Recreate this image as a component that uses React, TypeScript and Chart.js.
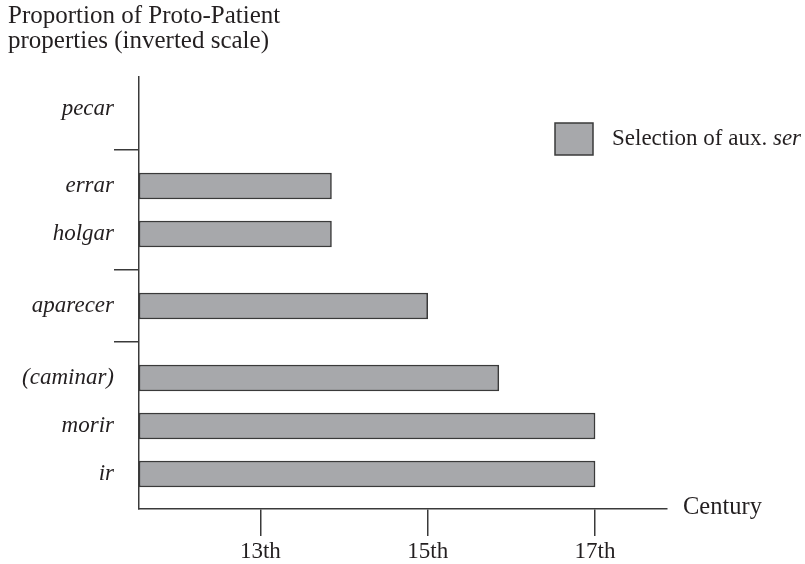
import React, { useEffect, useRef } from 'react';
import { Chart, registerables } from 'chart.js';

Chart.register(...registerables);

// ---- data ----
const verbs = ['ir', 'morir', '(caminar)', 'aparecer', 'holgar', 'errar', 'pecar'];
const verbRows = [0, 1, 2, 3.5, 5, 6, 7.6];
const serCentury: (number | null)[] = [17, 17, 15.85, 15, 13.85, 13.85, null];
const groupBreaks = [2.75, 4.25, 6.75];
const centuryTicks = [13, 15, 17];
const centuryLabels = ['13th', '15th', '17th'];
const titleLines = ['Proportion of Proto-Patient', 'properties (inverted scale)'];
const xTitle = 'Century';
const legendMain = 'Selection of aux. ';
const legendItalic = 'ser';

const X_MIN = 11.55;
const X_MAX = 17.86;
const Y_MIN = -0.73;
const Y_MAX = 8.27;

const FAMILY = "'Liberation Serif', 'DejaVu Serif', serif";
const INK = '#231f20';
const BAR_FILL = '#a7a8ab';
const BAR_EDGE = '#3a3a3a';

const extrasPlugin = {
  id: 'extras',
  afterDraw(chart: any) {
    const { ctx, chartArea } = chart;
    ctx.save();
    // x-axis title to the right of the axis
    ctx.font = `24.5px ${FAMILY}`;
    ctx.fillStyle = INK;
    ctx.textAlign = 'left';
    ctx.textBaseline = 'middle';
    ctx.fillText(xTitle, chartArea.right + 16, chartArea.bottom - 1);

    // legend
    const bx = chartArea.right - 112;
    const by = chartArea.top + 46;
    ctx.fillStyle = BAR_FILL;
    ctx.fillRect(bx, by, 38, 32);
    ctx.strokeStyle = BAR_EDGE;
    ctx.lineWidth = 1.5;
    ctx.strokeRect(bx, by, 38, 32);
    const tx = bx + 57;
    const ty = by + 16;
    ctx.fillStyle = INK;
    ctx.font = `23px ${FAMILY}`;
    ctx.fillText(legendMain, tx, ty);
    const w = ctx.measureText(legendMain).width;
    ctx.font = `italic 23px ${FAMILY}`;
    ctx.fillText(legendItalic, tx + w, ty);
    ctx.restore();
  },
};

export default function App() {
  const ref = useRef<HTMLCanvasElement | null>(null);

  useEffect(() => {
    document.body.style.margin = '0';
    const canvas = ref.current;
    if (!canvas) return;
    const points = verbs
      .map((v, i) => ({ x: serCentury[i], y: verbRows[i] }))
      .filter((p) => p.x !== null);

    const chart = new Chart(canvas, {
      type: 'bar',
      data: {
        datasets: [
          {
            label: 'Selection of aux. ser',
            data: points as any,
            base: X_MIN,
            backgroundColor: BAR_FILL,
            borderColor: BAR_EDGE,
            borderWidth: 1.5,
            borderSkipped: false,
            barThickness: 26,
          } as any,
        ],
      },
      options: {
        indexAxis: 'y',
        animation: false,
        responsive: false,
        maintainAspectRatio: false,
        layout: { padding: { left: 8, right: 138, top: 0, bottom: 0 } },
        plugins: {
          legend: { display: false },
          tooltip: { enabled: false },
          title: {
            display: true,
            text: titleLines,
            align: 'start',
            color: INK,
            font: { family: FAMILY, size: 25, weight: 'normal', lineHeight: '25px' } as any,
            padding: { top: 4, bottom: 23 },
          },
        },
        scales: {
          x: {
            type: 'linear',
            min: X_MIN,
            max: X_MAX,
            offset: false,
            afterBuildTicks: (axis: any) => {
              axis.ticks = centuryTicks.map((v) => ({ value: v }));
            },
            afterFit: (axis: any) => {
              axis.height = 55;
            },
            ticks: {
              color: INK,
              font: { family: FAMILY, size: 23 },
              padding: 2,
              maxRotation: 0,
              autoSkip: false,
              callback: (v: any) => {
                const i = centuryTicks.indexOf(Number(v));
                return i >= 0 ? centuryLabels[i] : '';
              },
            },
            grid: {
              display: true,
              drawOnChartArea: false,
              drawTicks: true,
              tickLength: 27,
              color: BAR_EDGE,
              lineWidth: 1.5,
              offset: false,
            },
            border: { display: true, color: BAR_EDGE, width: 1.5 },
          },
          y: {
            type: 'linear',
            min: Y_MIN,
            max: Y_MAX,
            offset: false,
            afterBuildTicks: (axis: any) => {
              const vals = [...verbRows, ...groupBreaks].sort((a, b) => a - b);
              axis.ticks = vals.map((v) => ({ value: v }));
            },
            afterFit: (axis: any) => {
              axis.width = 131;
            },
            ticks: {
              color: INK,
              font: { family: FAMILY, size: 23, style: 'italic' },
              padding: 0,
              autoSkip: false,
              callback: (v: any) => {
                const i = verbRows.indexOf(Number(v));
                return i >= 0 ? verbs[i] : '';
              },
            },
            grid: {
              display: true,
              drawOnChartArea: false,
              drawTicks: true,
              tickLength: 25,
              lineWidth: 1.5,
              offset: false,
              color: (ctx: any) =>
                ctx.tick && groupBreaks.includes(ctx.tick.value) ? BAR_EDGE : 'rgba(0,0,0,0)',
            },
            border: { display: true, color: BAR_EDGE, width: 1.5 },
          },
        },
      },
      plugins: [extrasPlugin],
    });
    return () => chart.destroy();
  }, []);

  return (
    <div style={{ width: 805, height: 564 }}>
      <canvas ref={ref} width={805} height={564} style={{ display: 'block', width: 805, height: 564 }} />
    </div>
  );
}
